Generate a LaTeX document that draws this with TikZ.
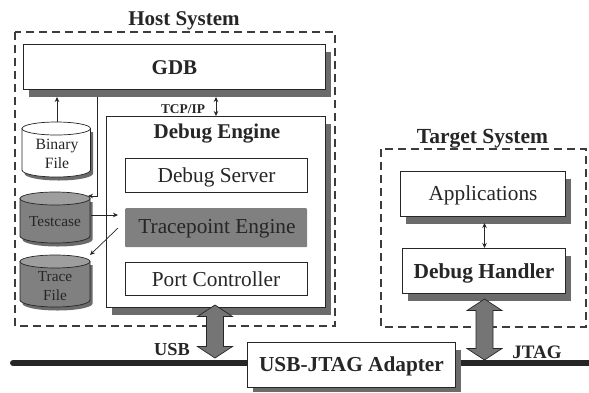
\documentclass[tikz,border=0pt]{standalone}
\usepackage{fontspec}
\setmainfont{Liberation Serif}
\usetikzlibrary{arrows.meta}
\definecolor{shd}{gray}{0.42}
\definecolor{tpfill}{gray}{0.50}
\definecolor{arrowfill}{gray}{0.46}
\definecolor{cyl}{gray}{0.50}
\definecolor{cyltop}{gray}{0.62}
\definecolor{ink}{gray}{0.15}
\tikzset{
  x=1pt,y=-1pt,
  every node/.style={text=ink,inner sep=0pt},
  dashbox/.style={draw=ink!90,line width=1.2pt,dash pattern=on 8pt off 5pt},
  wbox/.style={draw=ink,line width=.7pt,fill=white},
  shad/.style={fill=shd},
  thin arrow/.style={draw=ink,line width=.7pt,-{Stealth[length=5pt,width=4.5pt]}},
  both arrow/.style={draw=ink,line width=.7pt,{Stealth[length=5pt,width=4.5pt]}-{Stealth[length=5pt,width=4.5pt]}},
  bold/.style={font=\bfseries\fontsize{#1}{#1}\selectfont},
  plain/.style={font=\fontsize{#1}{#1}\selectfont,align=center},
}
% cylinder outline: left x, top y, right x, bottom y
\newcommand{\drumpath}[4]{(#1,#2+6.500) -- (#1,#4-7) arc[start angle=180,end angle=360,x radius={(#3-#1)/2},y radius=-7] -- (#3,#2+6.500) -- cycle}
\newcommand{\drum}[6]{%
  \fill[shd,shift={(2.500,3.500)}] \drumpath{#1}{#2}{#3}{#4};
  \draw[draw=ink,line width=.7pt,fill=#5] \drumpath{#1}{#2}{#3}{#4};
  \draw[draw=ink,line width=.7pt,fill=#6] ({(#1+#3)/2},#2+6.500) ellipse[x radius={(#3-#1)/2},y radius=6.500];
}
\newcommand{\dblarrow}[5]{% cx, top, bottom, shaft half, head half
  \draw[draw=ink,line width=.7pt,fill=arrowfill] (#1,#2) -- (#1+#5,#2+11.500) -- (#1+#4,#2+11.500) -- (#1+#4,#3-11.500) -- (#1+#5,#3-11.500) -- (#1,#3) -- (#1-#5,#3-11.500) -- (#1-#4,#3-11.500) -- (#1-#4,#2+11.500) -- (#1-#5,#2+11.500) -- cycle;
}
\begin{document}
\begin{tikzpicture}
\useasboundingbox (0,0) rectangle (589,392);
\fill[white] (0,0) rectangle (589,392);

% dashed frames
\draw[dashbox] (15,32) rectangle (335,326);
\draw[dashbox] (381,149) rectangle (586,327);
\node[bold=21] (hosttitle) at (184,21) {Host System};
\node[bold=21.5] (targettitle) at (482.500,139) {Target System};

% bus
\draw[line width=6pt,draw=black!85,line cap=round] (13,363) -- (589,363);

% GDB
\fill[shad] (29,52) rectangle (331,97);
\node[wbox,minimum width=302pt,minimum height=45pt,anchor=north west] (gdb) at (23,44) {};
\node[bold=21] at (174.500,68) {GDB};

% Debug engine
\fill[shad] (112,124) rectangle (331,315);
\node[wbox,minimum width=219pt,minimum height=191pt,anchor=north west] (engine) at (106,116) {};
\node[bold=21] (enginelabel) at (217,134) {Debug Engine};
\node[wbox,minimum width=182pt,minimum height=34pt,anchor=north west] (server) at (125,158) {};
\node[plain=21.3] (serverlabel) at (216.500,177) {Debug Server};
\node[fill=tpfill,rounded corners=1pt,minimum width=182pt,minimum height=39pt,anchor=north west] (tp) at (125,208) {};
\node[plain=21.3] (tplabel) at (217,229) {Tracepoint Engine};
\node[wbox,minimum width=182pt,minimum height=33pt,anchor=north west] (port) at (125,262) {};
\node[plain=21.3] (portlabel) at (216,279) {Port Controller};

% cylinders
\drum{22}{122}{90.500}{177}{white}{white}
\node[plain=15.700] (binary) at (57,154) {Binary\\[3pt]File};
\drum{20}{192}{90}{243}{cyl}{cyltop}
\node[plain=15.300] (testcase) at (55,222) {Testcase};
\drum{20}{255}{90}{307}{cyl}{cyltop}
\node[plain=15.300] (trace) at (55,286) {Trace\\[3pt]File};

% small connectors
\coordinate (gdbA) at (57,97);
\coordinate (binTop) at (57,122);
\draw[thin arrow] (binTop) -- (gdbA);
\coordinate (gdbB) at (97.500,97);
\coordinate (tcIn) at (88,196);
\draw[thin arrow] (gdbB) -- (97.500,196) -- (tcIn);
\coordinate (tcOut) at (91,215);
\coordinate (tpIn) at (118,215);
\draw[thin arrow] (tcOut) -- (tpIn);
\coordinate (tpOut) at (118,228);
\coordinate (trIn) at (90,255);
\draw[thin arrow] (tpOut) -- (trIn);
\coordinate (gdbC) at (216,97);
\coordinate (engTop) at (216,116);
\draw[both arrow] (gdbC) -- (engTop);
\node[bold=13.400] (tcp) at (183,109) {TCP/IP};

% Target
\fill[shad] (406,179) rectangle (571,224);
\node[wbox,minimum width=165pt,minimum height=45pt,anchor=north west] (apps) at (400,171) {};
\node[plain=21.3] (appslabel) at (483,195) {Applications};
\fill[shad] (408,256) rectangle (571,301);
\node[wbox,minimum width=163pt,minimum height=45pt,anchor=north west] (handler) at (402,248) {};
\node[bold=21.4] (handlerlabel) at (484,273) {Debug Handler};
\coordinate (appsOut) at (484.500,223);
\draw[both arrow] (appsOut) -- (appsOut |- handler.north);

% Adapter
\fill[shad] (253,350) rectangle (461,392);
\node[wbox,minimum width=208pt,minimum height=45pt,anchor=north west] (adapter) at (247,342) {};
\node[bold=21.3] (adapterlabel) at (351.500,366) {USB-JTAG Adapter};

% thick arrows
\dblarrow{215}{305}{358}{8.500}{17.500}
\dblarrow{484.500}{299}{360}{8.500}{17.500}
\node[bold=18.3] (usb) at (172,350) {USB};
\node[bold=19] (jtag) at (537,352) {JTAG};
\end{tikzpicture}
\end{document}
